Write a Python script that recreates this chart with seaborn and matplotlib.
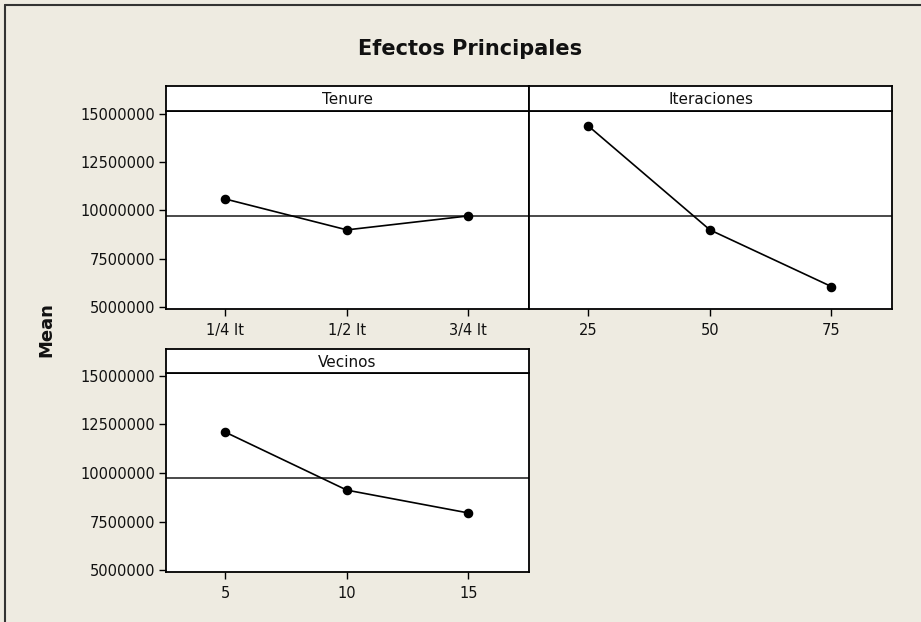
import matplotlib
matplotlib.use("Agg")
import matplotlib.pyplot as plt
import numpy as np
import pandas as pd
import seaborn as sns
from matplotlib.lines import Line2D

sns.set_theme(style="white")
plt.rcParams["font.family"] = ["DejaVu Sans"]

# data
tenure_levels = ["1/4 It", "1/2 It", "3/4 It"]
tenure_means = [10590000, 9000000, 9720000]
iter_levels = ["25", "50", "75"]
iter_means = [14350000, 9000000, 6080000]
vecinos_levels = ["5", "10", "15"]
vecinos_means = [12090000, 9120000, 7950000]
grand_mean = 9720000
y_ticks = [5000000, 7500000, 10000000, 12500000, 15000000]

W, H = 921, 622
BG = "#EEEBE1"


def _rect(x0, y0, x1, y1):
    # pixel box (top-left origin) -> figure fraction rect
    return [x0 / W, 1 - y1 / H, (x1 - x0) / W, (y1 - y0) / H]


def _panel(fig, box, strip_top, name, levels, means, show_y):
    x0, y0, x1, y1 = box
    ax = fig.add_axes(_rect(x0, y0, x1, y1))
    df = pd.DataFrame({"level": levels, "mean": means})
    ax.axhline(grand_mean, color="#3a3a3a", lw=1.3, zorder=1)
    sns.pointplot(
        data=df, x="level", y="mean", order=levels, color="black",
        markers="o", markersize=6, linewidth=1.2, ax=ax, zorder=3,
    )
    ax.set_xlim(-0.49, 2.5)
    ax.set_ylim(4920000, 15130000)
    ax.set_yticks(y_ticks)
    ax.set_yticklabels([str(v) for v in y_ticks])
    ax.set_xlabel("")
    ax.set_ylabel("")
    ax.set_facecolor("white")
    for s in ax.spines.values():
        s.set_color("black")
        s.set_linewidth(1.3)
    ax.tick_params(axis="x", bottom=True, length=5, width=1, color="black",
                   labelsize=10.5, pad=5, labelcolor="#111111")
    if show_y:
        ax.tick_params(axis="y", left=True, length=5, width=1, color="black",
                       labelsize=10.5, pad=3, labelcolor="#111111")
    else:
        ax.tick_params(axis="y", left=False, labelleft=False)

    sax = fig.add_axes(_rect(x0, strip_top, x1, y0))
    sax.set_facecolor("white")
    sax.set_xticks([])
    sax.set_yticks([])
    for s in sax.spines.values():
        s.set_color("black")
        s.set_linewidth(1.3)
    sax.text(0.5, 0.45, name, ha="center", va="center", fontsize=11,
             color="#111111", transform=sax.transAxes)
    return ax


fig = plt.figure(figsize=(W / 100, H / 100), dpi=100, facecolor=BG)

_panel(fig, (166, 111, 529, 309), 86, "Tenure", tenure_levels, tenure_means, True)
_panel(fig, (529, 111, 892, 309), 86, "Iteraciones", iter_levels, iter_means, False)
_panel(fig, (166, 373, 529, 572), 349, "Vecinos", vecinos_levels, vecinos_means, True)

fig.text(470 / W, 1 - 49 / H, "Efectos Principales", ha="center", va="center",
         fontsize=15, fontweight="bold", color="#111111")
fig.text(46 / W, 1 - 330 / H, "Mean", ha="center", va="center", rotation=90,
         fontsize=13, fontweight="bold", color="#111111")

# outer frame (left and top edges visible)
fig.add_artist(Line2D([5 / W, 5 / W], [0, 1 - 5 / H], color="#333333", lw=1.5,
                      transform=fig.transFigure))
fig.add_artist(Line2D([5 / W, 1], [1 - 5 / H, 1 - 5 / H], color="#333333", lw=1.5,
                      transform=fig.transFigure))

fig.savefig("out.png", dpi=100, facecolor=BG)
